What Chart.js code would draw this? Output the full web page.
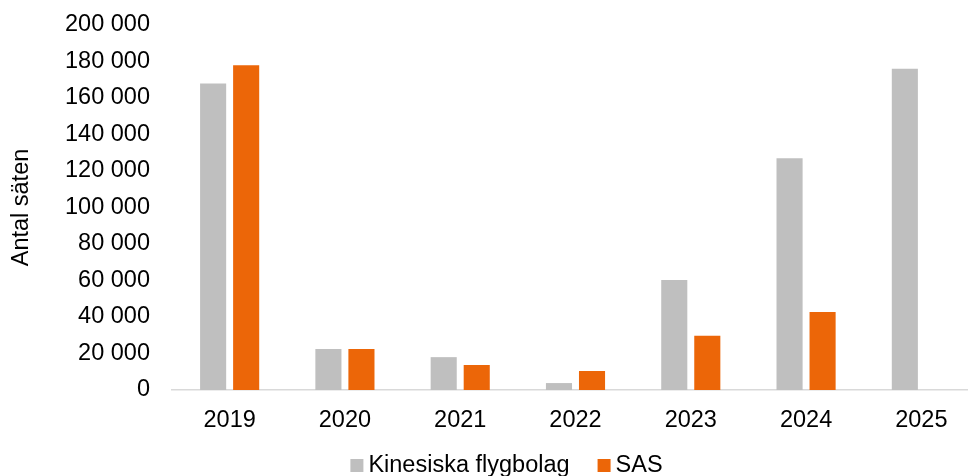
<!DOCTYPE html>
<html><head><meta charset="utf-8">
<script src="https://cdn.jsdelivr.net/npm/chart.js@4/dist/chart.umd.min.js"></script>
<style>
html,body{margin:0;padding:0;background:#fff;overflow:hidden;}
#wrap{width:1014px;height:476px;position:relative;}
</style></head>
<body>
<div id="wrap"><canvas id="c" width="1014" height="476"></canvas></div>
<script>
const categories = ["2019","2020","2021","2022","2023","2024","2025"];
const chineseAirlines = [168000, 22500, 18000, 3800, 60300, 127000, 176000];
const sas = [178000, 22500, 13700, 10400, 29700, 42700, null];
const seriesNames = ["Kinesiska flygbolag", "SAS"];
const yTitle = "Antal säten";

const fontFam = "'Liberation Sans', Arial, sans-serif";
const FS = 23.5;
function fmt(v){ return String(v).replace(/\B(?=(\d{3})+(?!\d))/g, " "); }

// Legend drawn from the chart's datasets (box, small gap, text), centred under the plot
const bottomLegend = {
  id: 'bottomLegend',
  afterDraw(chart) {
    const ctx = chart.ctx;
    ctx.save();
    ctx.font = FS + "px " + fontFam;
    ctx.textBaseline = 'alphabetic';
    ctx.textAlign = 'left';
    const box = 13, gapText = 5, gapItem = 28;
    const items = chart.data.datasets.map(d => ({ text: d.label, color: d.backgroundColor, w: ctx.measureText(d.label).width }));
    let total = 0;
    items.forEach((it, i) => { total += box + gapText + it.w + (i < items.length - 1 ? gapItem : 0); });
    let x = 506.5 - total / 2;
    const baseY = 472;
    items.forEach(it => {
      ctx.fillStyle = it.color;
      ctx.fillRect(x, baseY - 13, box, box);
      x += box + gapText;
      ctx.fillStyle = '#000';
      ctx.fillText(it.text, x, baseY);
      x += it.w + gapItem;
    });
    ctx.restore();
  }
};

new Chart(document.getElementById('c'), {
  type: 'bar',
  data: {
    labels: categories,
    datasets: [
      { label: seriesNames[0], data: chineseAirlines, backgroundColor: '#BFBFBF', categoryPercentage: 0.573, barPercentage: 0.79 },
      { label: seriesNames[1], data: sas, backgroundColor: '#EC6608', categoryPercentage: 0.573, barPercentage: 0.79 }
    ]
  },
  plugins: [bottomLegend],
  options: {
    responsive: false,
    animation: false,
    layout: { padding: { top: 25, right: 35, left: 0, bottom: 38 } },
    plugins: {
      legend: { display: false },
      tooltip: { enabled: false }
    },
    scales: {
      x: {
        grid: { display: false, drawTicks: false },
        border: { display: true, color: '#D9D9D9', width: 1.5 },
        ticks: { font: { family: fontFam, size: FS }, color: '#000', padding: 16 },
        afterFit: s => { s.height = 48; s.paddingLeft = 0; s.paddingRight = 0; }
      },
      y: {
        min: 0, max: 200000,
        grid: { display: false, drawTicks: false },
        border: { display: false },
        ticks: { stepSize: 20000, font: { family: fontFam, size: FS }, color: '#000', padding: 22, callback: v => fmt(v) },
        title: { display: true, text: yTitle, font: { family: fontFam, size: FS }, color: '#000', padding: { top: 7, bottom: 0 } },
        afterFit: s => { s.width = 172; s.paddingTop = 0; s.paddingBottom = 0; }
      }
    }
  }
});
</script>
</body></html>
